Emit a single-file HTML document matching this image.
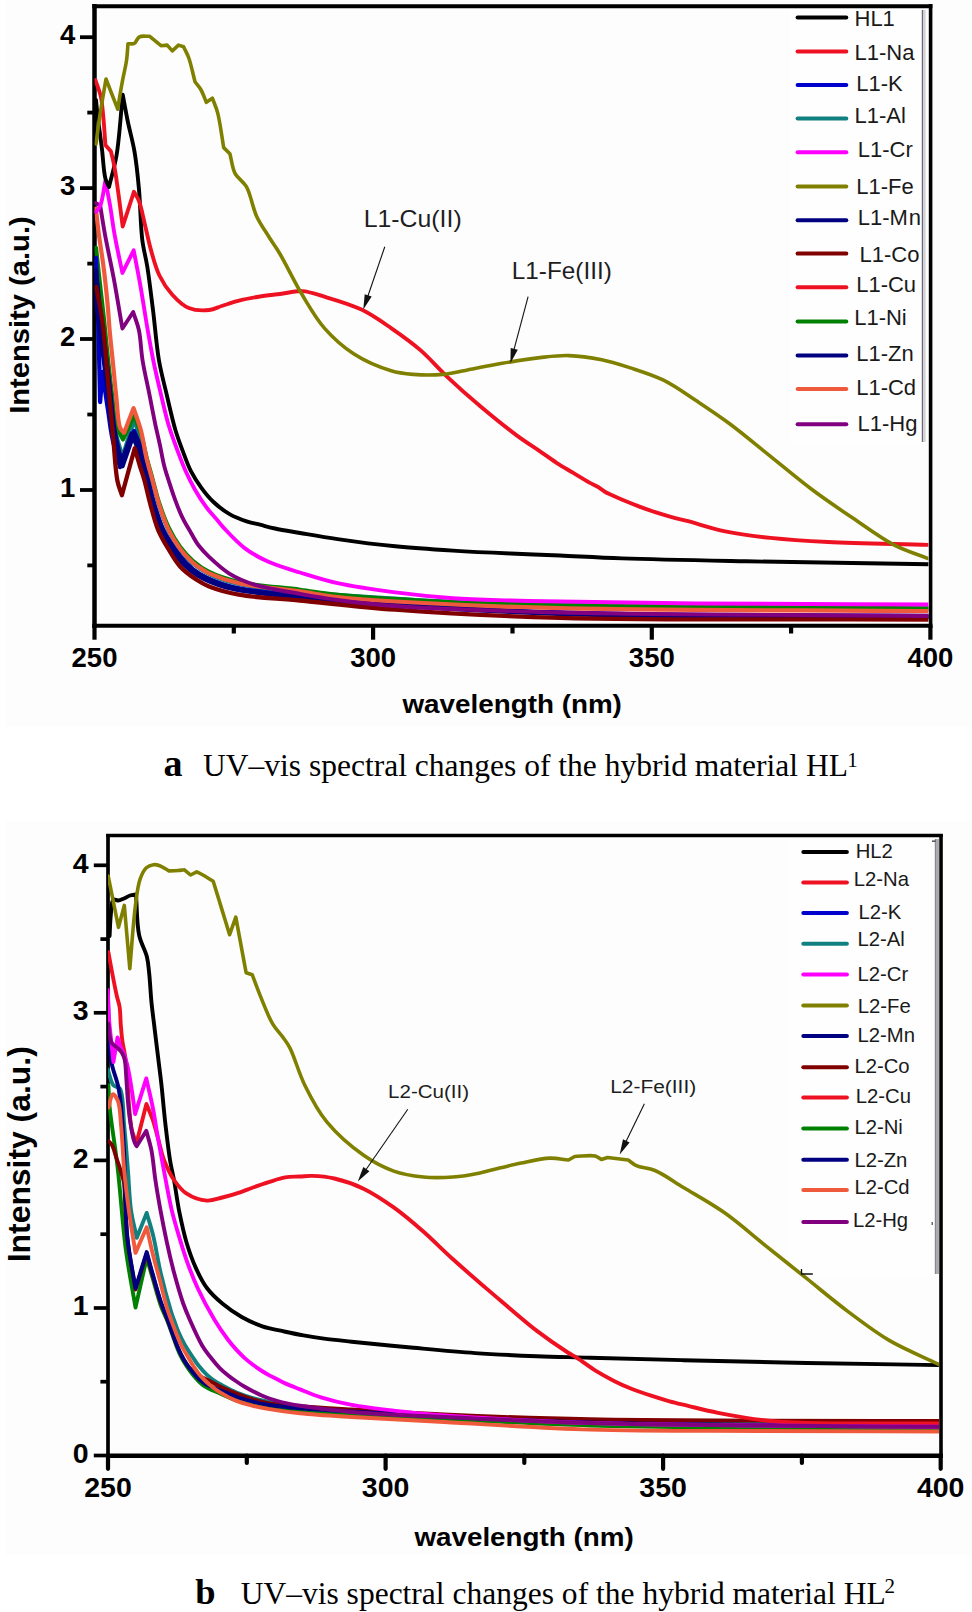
<!DOCTYPE html>
<html><head><meta charset="utf-8"><title>UV-vis spectra</title>
<style>
html,body{margin:0;padding:0;background:#fff;}
body{width:972px;height:1612px;overflow:hidden;position:relative;}
svg{position:absolute;left:0;top:0;}
.t{font-family:"Liberation Sans",sans-serif;}
.s{font-family:"Liberation Serif",serif;}
</style></head><body>
<svg width="972" height="1612" viewBox="0 0 972 1612">
<rect x="6" y="0" width="965" height="727" fill="#fdfdfd"/>
<rect x="6" y="821" width="966" height="734" fill="#fdfdfd"/>
<rect x="790" y="9" width="132" height="434" fill="#fefefe"/>
<rect x="789" y="839" width="146" height="436" fill="#fefefe"/>
<defs><clipPath id="c1"><rect x="94.5" y="8.2" width="833.9" height="615.6"/></clipPath><clipPath id="c2"><rect x="108.0" y="837.6" width="831.0" height="616.1"/></clipPath></defs>
<line x1="94.5" y1="4.1" x2="94.5" y2="627.7" stroke="#000" stroke-width="4.50"/>
<line x1="930.6" y1="4.1" x2="930.6" y2="627.7" stroke="#000" stroke-width="3.60"/>
<line x1="92.3" y1="6.2" x2="932.4" y2="6.2" stroke="#000" stroke-width="4.10"/>
<line x1="92.3" y1="625.7" x2="932.4" y2="625.7" stroke="#000" stroke-width="4.00"/>
<line x1="108.0" y1="833.9" x2="108.0" y2="1458.0" stroke="#000" stroke-width="3.70"/>
<line x1="941.0" y1="833.9" x2="941.0" y2="1458.0" stroke="#000" stroke-width="3.60"/>
<line x1="106.2" y1="835.6" x2="942.8" y2="835.6" stroke="#000" stroke-width="3.50"/>
<line x1="106.2" y1="1455.7" x2="942.8" y2="1455.7" stroke="#000" stroke-width="4.50"/>
<g clip-path="url(#c1)">
<path d="M96.0 262.0 C97.3 274.7 98.6 286.8 100.0 300.0 C101.6 314.4 103.3 330.0 105.0 345.0 C106.7 360.0 108.3 375.4 110.0 390.0 C111.6 403.7 112.6 418.0 115.0 430.0 C117.0 440.0 120.0 448.1 122.5 457.2 L134.2 419.3 C136.5 426.5 138.9 434.0 141.0 441.0 C143.0 447.5 144.6 453.5 146.5 460.0 C148.4 466.8 150.4 473.7 152.4 481.0 C154.6 488.9 156.6 497.4 159.2 505.5 C161.9 513.8 164.9 522.8 168.5 530.3 C171.8 537.1 175.5 543.4 179.7 549.0 C183.6 554.3 187.8 559.0 192.7 563.2 C197.6 567.4 202.6 570.8 209.1 574.0 C217.3 578.0 227.0 581.3 238.8 584.0 C255.4 587.8 272.5 589.4 300.0 592.0 C356.6 597.3 465.7 603.6 560.0 606.5 C672.4 610.0 806.7 608.2 930.0 609.0" fill="none" stroke="#108080" stroke-width="4.30" stroke-linejoin="round" stroke-linecap="round"/>
<path d="M96.0 248.0 C97.3 260.3 98.6 272.8 100.0 285.0 C101.3 296.8 102.7 307.9 104.0 320.0 C105.4 332.9 106.6 347.1 108.0 360.0 C109.3 372.1 110.6 383.8 112.0 395.0 C113.3 405.4 113.6 417.0 116.0 425.0 C117.8 430.8 120.7 434.6 123.0 439.4 L134.2 415.0 C136.5 421.3 139.0 427.3 141.0 434.0 C143.2 441.4 144.6 449.9 146.5 457.5 C148.4 464.8 150.4 471.4 152.4 478.7 C154.6 486.6 156.5 495.2 159.2 503.3 C162.0 511.6 165.1 520.5 168.8 528.0 C172.1 534.8 175.8 541.2 180.0 546.8 C183.9 552.1 188.2 556.8 193.0 561.0 C197.9 565.2 202.7 568.8 209.1 572.0 C217.3 576.1 227.0 579.3 238.8 582.0 C255.4 585.8 282.1 587.4 300.0 589.8 C314.1 591.7 322.5 593.4 337.6 595.0 C360.5 597.3 391.9 599.2 424.0 600.8 C464.2 602.8 503.5 603.9 560.0 605.0 C653.1 606.9 806.7 607.3 930.0 608.5" fill="none" stroke="#008000" stroke-width="4.30" stroke-linejoin="round" stroke-linecap="round"/>
<path d="M96.0 258.0 C96.8 282.0 97.8 306.0 98.5 330.0 C99.2 354.0 99.6 378.0 100.1 402.0 L102.5 372.0 C104.3 384.7 106.0 397.6 108.0 410.0 C109.9 421.9 111.0 435.3 114.0 445.0 C116.3 452.5 119.7 457.7 122.5 464.0 L134.2 431.0 C136.6 437.3 139.3 442.9 141.4 450.0 C144.0 458.6 145.6 469.7 147.8 479.0 C149.8 487.7 151.5 495.7 154.0 504.0 C156.5 512.4 159.2 521.4 162.7 529.0 C165.9 535.9 169.8 541.9 173.8 547.7 C177.6 553.3 181.8 558.7 186.2 563.2 C190.3 567.3 193.8 570.5 199.3 573.8 C206.9 578.3 216.6 582.7 228.9 586.0 C247.2 591.0 268.8 592.8 300.0 596.0 C359.4 602.1 465.7 609.1 560.0 612.5 C672.4 616.6 806.7 614.8 930.0 616.0" fill="none" stroke="#0000cc" stroke-width="4.30" stroke-linejoin="round" stroke-linecap="round"/>
<path d="M96.0 270.0 C97.3 283.3 98.5 296.7 100.0 310.0 C101.5 323.3 103.6 337.0 105.2 350.0 C106.8 362.3 108.1 373.2 109.6 385.8 C111.3 399.8 112.3 416.4 114.6 430.4 C116.7 443.0 119.9 454.3 122.5 466.2 L134.2 432.7 C136.7 438.8 139.4 444.1 141.6 451.0 C144.2 459.5 145.9 470.7 148.1 480.0 C150.1 488.6 151.8 496.6 154.3 504.8 C156.8 513.1 159.5 522.1 163.0 529.6 C166.2 536.4 170.1 542.4 174.1 548.2 C177.9 553.7 182.1 559.2 186.5 563.7 C190.6 567.8 194.1 571.0 199.6 574.3 C207.2 578.8 216.7 583.2 228.9 586.5 C247.2 591.5 268.8 593.2 300.0 596.4 C359.4 602.4 465.7 609.5 560.0 613.0 C672.4 617.1 806.7 615.3 930.0 616.5" fill="none" stroke="#000080" stroke-width="4.40" stroke-linejoin="round" stroke-linecap="round" transform="translate(-2.6 0.8)"/>
<path d="M96.0 270.0 C97.3 283.3 98.5 296.7 100.0 310.0 C101.5 323.3 103.6 337.0 105.2 350.0 C106.8 362.3 108.1 373.2 109.6 385.8 C111.3 399.8 112.3 416.4 114.6 430.4 C116.7 443.0 119.9 454.3 122.5 466.2 L134.2 432.7 C136.7 438.8 139.4 444.1 141.6 451.0 C144.2 459.5 145.9 470.7 148.1 480.0 C150.1 488.6 151.8 496.6 154.3 504.8 C156.8 513.1 159.5 522.1 163.0 529.6 C166.2 536.4 170.1 542.4 174.1 548.2 C177.9 553.7 182.1 559.2 186.5 563.7 C190.6 567.8 194.1 571.0 199.6 574.3 C207.2 578.8 216.7 583.2 228.9 586.5 C247.2 591.5 268.8 593.2 300.0 596.4 C359.4 602.4 465.7 609.5 560.0 613.0 C672.4 617.1 806.7 615.3 930.0 616.5" fill="none" stroke="#000080" stroke-width="4.30" stroke-linejoin="round" stroke-linecap="round"/>
<path d="M96.3 286.8 C98.3 298.4 100.6 308.1 102.4 321.5 C104.8 339.6 106.6 365.1 108.5 385.8 C110.3 405.1 111.9 424.7 113.5 441.6 C114.8 455.8 115.4 470.9 117.4 480.7 C118.6 486.8 120.4 490.4 121.9 495.2 L134.7 448.3 C136.5 454.3 138.3 460.7 140.0 466.3 C141.5 471.2 142.8 474.7 144.3 480.0 C146.3 487.0 148.2 496.6 150.5 504.8 C152.8 513.1 154.9 522.1 158.0 529.6 C160.8 536.4 164.2 542.1 167.9 548.2 C171.7 554.5 175.5 561.5 180.3 566.8 C184.9 571.8 190.7 575.9 195.8 579.3 C200.3 582.3 203.6 584.3 209.1 586.5 C216.9 589.6 227.0 592.5 238.8 594.7 C255.4 597.8 277.4 598.3 300.0 600.5 C328.3 603.2 359.2 607.1 395.3 609.7 C442.7 613.2 494.1 616.0 560.0 617.8 C658.7 620.5 806.7 618.9 930.0 619.5" fill="none" stroke="#800000" stroke-width="4.30" stroke-linejoin="round" stroke-linecap="round"/>
<path d="M95.9 208.7 C96.9 217.4 97.7 225.7 98.9 234.7 C100.2 244.4 101.9 254.3 103.3 265.1 C104.9 277.3 106.5 292.5 107.6 304.2 C108.5 313.7 108.8 320.8 109.6 330.0 C110.5 340.4 111.9 352.3 113.0 363.5 C114.1 374.7 115.1 386.0 116.3 397.0 C117.5 407.6 117.7 422.6 120.2 428.2 C121.3 430.6 122.8 431.2 124.1 432.7 L133.6 408.1 C136.0 415.5 138.8 422.5 140.9 430.4 C143.2 439.2 144.5 450.1 146.6 458.8 C148.4 466.4 150.4 472.7 152.4 480.0 C154.6 487.9 156.5 496.6 159.2 504.8 C161.9 513.1 164.9 522.1 168.5 529.6 C171.8 536.4 175.5 542.6 179.7 548.2 C183.6 553.5 188.8 559.0 192.7 562.5 C195.4 564.9 197.4 566.4 200.0 568.1 C202.8 570.0 205.1 571.5 209.1 573.3 C216.0 576.4 227.0 580.5 238.8 583.2 C255.4 587.0 282.1 588.9 300.0 591.4 C314.1 593.4 322.5 595.3 337.6 597.0 C360.5 599.5 391.9 601.3 424.0 603.0 C464.2 605.2 503.5 606.9 560.0 608.2 C653.1 610.4 806.7 610.2 930.0 611.2" fill="none" stroke="#f05a3c" stroke-width="4.20" stroke-linejoin="round" stroke-linecap="round"/>
<path d="M95.5 203.0 L100.2 205.5 C101.8 215.2 103.1 224.0 105.0 234.7 C107.4 247.8 110.9 263.1 113.7 278.1 C116.7 294.3 119.5 311.7 122.4 328.5 L133.2 312.0 C135.1 318.1 137.4 323.3 138.9 330.2 C140.8 338.8 140.9 349.9 142.5 360.0 C144.2 370.7 146.9 381.9 149.1 392.9 C151.3 403.9 153.6 416.3 155.6 425.8 C157.2 433.2 158.6 438.9 160.0 445.4 C161.4 451.9 162.5 458.9 164.0 465.0 C165.3 470.4 166.8 474.7 168.5 480.0 C170.4 485.9 172.4 492.4 174.7 498.6 C177.0 504.8 179.4 511.4 182.2 517.2 C184.8 522.7 188.0 527.8 190.9 532.7 C193.6 537.3 195.8 541.8 198.9 545.8 C201.9 549.8 205.0 553.0 209.1 556.9 C214.5 562.0 221.5 568.7 228.9 573.3 C236.7 578.2 245.1 581.7 255.2 584.9 C268.0 588.9 285.7 591.3 300.0 593.9 C313.1 596.3 323.7 598.2 337.6 600.0 C354.8 602.3 371.1 604.3 395.3 606.0 C436.1 608.9 494.1 610.9 560.0 612.5 C658.7 614.9 806.7 614.8 930.0 616.0" fill="none" stroke="#800080" stroke-width="3.90" stroke-linejoin="round" stroke-linecap="round"/>
<path d="M96.0 212.0 C97.5 209.8 99.1 208.4 100.4 205.3 C102.7 199.8 103.7 188.9 105.4 180.7 C106.9 188.8 108.5 196.5 110.0 205.0 C111.6 214.4 112.7 224.2 114.6 234.7 C116.7 246.7 119.8 260.2 122.4 272.9 L133.7 250.3 C136.0 262.5 138.4 274.3 140.6 286.8 C142.9 300.0 145.1 314.8 147.3 327.6 C149.3 339.0 151.0 349.2 153.2 360.0 C155.4 370.9 158.0 381.9 160.6 392.9 C163.2 403.9 165.8 415.7 168.8 425.8 C171.5 434.7 174.6 442.7 177.5 450.6 C180.2 457.8 182.7 464.6 185.7 471.2 C188.6 477.6 191.6 483.7 195.0 489.7 C198.4 495.7 202.4 501.9 206.3 507.2 C209.9 512.1 214.1 516.4 217.6 520.5 C220.5 523.9 222.4 526.4 225.8 530.0 C230.8 535.3 238.2 543.3 245.3 548.6 C252.4 553.9 259.9 558.0 268.4 561.8 C277.9 566.1 289.0 569.1 300.0 572.5 C311.9 576.2 323.6 580.1 337.6 583.2 C354.7 587.0 376.0 589.9 395.3 592.4 C414.5 594.9 433.7 596.8 452.9 598.2 C472.1 599.5 492.0 599.9 510.5 600.5 C527.6 601.0 539.3 601.1 560.0 601.5 C594.8 602.1 647.6 603.0 700.0 603.5 C767.2 604.1 853.3 604.2 930.0 604.5" fill="none" stroke="#ff00ff" stroke-width="3.90" stroke-linejoin="round" stroke-linecap="round"/>
<path d="M96.0 100.0 C96.5 105.3 96.9 109.6 97.6 115.9 C98.7 125.0 100.7 138.6 102.0 149.4 C103.2 159.4 103.6 171.7 105.4 178.4 C106.4 182.2 107.8 184.1 109.0 187.0 C111.5 176.3 114.5 167.4 116.6 155.0 C119.4 138.1 120.7 114.7 122.7 94.6 C124.4 103.6 125.9 112.3 127.8 121.5 C129.8 131.3 132.7 141.0 134.5 151.6 C136.5 163.2 137.7 175.2 138.9 188.5 C140.4 204.2 140.5 225.7 142.3 240.0 C143.6 250.4 145.7 256.8 147.3 266.8 C149.3 279.5 151.1 295.1 153.0 310.0 C155.0 326.1 156.4 345.1 158.9 360.0 C161.0 372.2 163.6 381.6 166.3 392.9 C169.1 404.9 172.3 419.5 175.4 430.0 C177.8 437.9 180.0 443.8 182.6 450.6 C185.2 457.5 187.7 464.9 190.9 471.2 C193.9 477.1 197.4 482.4 201.2 487.6 C204.9 492.7 208.8 497.6 213.5 502.0 C218.4 506.6 224.2 511.1 230.0 514.4 C235.5 517.6 242.0 519.8 247.4 521.6 C251.9 523.1 255.6 523.6 260.0 524.7 C264.8 525.9 269.3 527.3 275.0 528.5 C282.3 530.1 290.8 531.4 300.0 533.0 C311.3 534.9 323.7 537.1 337.6 539.1 C354.8 541.6 376.1 544.4 395.3 546.3 C414.5 548.2 433.7 549.4 452.9 550.6 C472.1 551.8 492.0 552.7 510.5 553.5 C527.6 554.3 542.6 554.7 560.0 555.5 C579.6 556.4 598.0 557.5 622.3 558.4 C656.5 559.6 700.5 560.4 745.8 561.3 C801.1 562.4 868.6 563.2 930.0 564.2" fill="none" stroke="#000000" stroke-width="3.90" stroke-linejoin="round" stroke-linecap="round"/>
<path d="M95.4 80.1 C97.2 85.7 99.6 91.1 100.9 96.9 C102.2 103.0 102.5 108.9 103.2 115.9 C104.1 124.5 104.7 135.2 105.4 144.9 L111.0 151.6 C112.1 156.4 113.3 160.7 114.3 166.1 C115.6 172.7 116.5 180.0 117.7 188.5 C119.3 199.5 121.0 213.8 122.7 226.5 L133.9 191.8 C135.6 194.8 137.4 196.9 138.9 200.8 C141.3 206.8 143.0 216.9 145.0 225.0 C147.0 233.1 148.5 241.2 150.8 249.4 C153.2 258.0 155.6 267.7 159.4 275.5 C162.9 282.7 167.3 289.2 172.3 294.7 C177.1 300.0 182.6 305.5 188.8 308.0 C194.9 310.5 203.4 310.6 209.3 310.0 C214.0 309.5 217.3 307.4 221.7 306.0 C226.8 304.4 232.3 302.3 238.1 300.8 C244.5 299.1 251.8 297.8 258.7 296.7 C265.7 295.6 272.8 294.9 280.0 294.0 C287.3 293.1 294.8 290.7 302.2 291.1 C309.6 291.5 316.1 294.2 324.4 296.7 C335.3 299.9 350.1 304.1 361.5 309.6 C372.2 314.7 381.4 321.4 391.1 328.1 C401.1 335.0 411.4 342.3 420.7 350.4 C429.9 358.4 437.4 367.5 446.7 376.3 C457.0 386.0 468.5 396.3 480.0 406.0 C491.9 416.0 506.0 427.5 517.0 435.6 C525.4 441.8 533.0 446.5 540.0 451.3 C546.0 455.4 550.9 459.2 556.5 462.8 C561.9 466.3 567.4 469.4 572.9 472.7 C578.4 476.0 584.8 480.1 589.4 482.6 C592.6 484.3 594.9 485.3 597.6 486.7 L605.8 492.4 C611.3 494.9 616.8 497.5 622.3 499.8 C627.8 502.1 633.3 504.3 638.8 506.4 C644.3 508.5 649.7 510.4 655.2 512.2 C660.7 514.0 666.2 515.6 671.7 517.1 C677.2 518.6 681.5 519.5 688.1 521.2 C698.0 523.8 712.1 528.6 725.2 531.3 C739.5 534.3 754.5 536.2 770.5 537.9 C788.5 539.8 806.1 540.9 828.0 542.0 C857.1 543.5 896.0 543.9 930.0 544.9" fill="none" stroke="#ee1122" stroke-width="3.90" stroke-linejoin="round" stroke-linecap="round"/>
<path d="M96.0 144.0 C97.3 134.6 98.3 125.9 99.8 115.9 C101.5 104.4 103.9 91.3 106.0 79.0 C107.9 83.8 109.7 88.6 111.6 93.5 C113.6 98.6 115.7 104.0 117.7 109.2 C119.2 100.2 120.6 90.8 122.2 82.3 C123.6 74.5 125.6 66.9 126.6 60.0 C127.4 54.2 127.5 49.1 128.0 43.7 C130.1 43.6 132.4 44.4 134.2 43.5 C136.3 42.4 137.0 38.0 139.4 36.8 C142.0 35.4 146.3 36.5 149.7 36.3 L161.0 45.7 L167.2 45.1 L172.3 50.9 L178.5 45.1 L183.6 46.7 C185.3 50.5 187.2 53.5 188.8 58.0 C191.1 64.4 192.9 73.8 195.0 81.7 C197.0 84.5 199.3 86.8 201.1 90.0 C203.1 93.6 204.6 98.2 206.3 102.3 L212.4 98.2 C214.1 103.0 216.0 106.7 217.6 112.6 C220.0 121.6 221.7 135.9 223.7 147.6 L229.9 153.7 C231.6 160.2 232.1 167.7 235.0 173.3 C237.7 178.5 243.1 181.0 246.4 186.7 C250.8 194.4 252.6 207.7 256.7 216.5 C260.3 224.2 265.0 230.5 269.0 237.0 C272.7 243.0 275.8 247.0 280.0 254.0 C286.3 264.6 294.5 282.1 302.2 294.8 C309.3 306.6 315.7 318.2 324.4 328.1 C333.0 337.9 343.0 346.9 354.0 354.0 C365.2 361.2 380.1 367.4 391.1 370.7 C399.3 373.2 405.3 373.7 413.3 374.4 C422.5 375.2 433.1 375.3 443.0 374.4 C452.9 373.5 462.7 370.7 472.6 368.9 C482.5 367.0 491.7 365.1 502.2 363.3 C514.0 361.3 528.2 358.9 540.0 357.6 C550.2 356.5 558.9 355.3 568.8 355.6 C579.4 355.9 591.2 357.6 601.7 359.7 C611.7 361.7 620.6 364.7 630.5 367.9 C641.2 371.4 652.8 374.9 663.5 380.2 C674.8 385.8 685.5 393.6 696.4 400.8 C707.4 408.1 717.9 415.0 729.3 423.5 C742.4 433.2 756.8 445.4 770.5 456.4 C784.2 467.4 797.7 478.9 811.6 489.3 C825.2 499.5 839.0 508.8 852.8 518.1 C866.4 527.3 880.3 537.8 893.9 544.9 C906.0 551.2 918.0 554.5 930.0 559.3" fill="none" stroke="#808000" stroke-width="3.60" stroke-linejoin="round" stroke-linecap="round"/>
</g>
<line x1="797.6" y1="17.6" x2="846.3" y2="17.6" stroke="#000000" stroke-width="4.00" stroke-linecap="round"/>
<text class="t" x="854.5" y="25.5" font-size="22.00" font-weight="normal" text-anchor="start" fill="#1a1a1a">HL1</text>
<line x1="797.6" y1="51.4" x2="846.3" y2="51.4" stroke="#ee1122" stroke-width="4.00" stroke-linecap="round"/>
<text class="t" x="854.5" y="60.1" font-size="22.00" font-weight="normal" text-anchor="start" fill="#1a1a1a">L1-Na</text>
<line x1="797.6" y1="85.1" x2="846.3" y2="85.1" stroke="#0000cc" stroke-width="4.00" stroke-linecap="round"/>
<text class="t" x="856.2" y="91.4" font-size="22.00" font-weight="normal" text-anchor="start" fill="#1a1a1a">L1-K</text>
<line x1="797.6" y1="118.5" x2="846.3" y2="118.5" stroke="#108080" stroke-width="4.00" stroke-linecap="round"/>
<text class="t" x="854.5" y="122.6" font-size="22.00" font-weight="normal" text-anchor="start" fill="#1a1a1a">L1-Al</text>
<line x1="797.6" y1="152.3" x2="846.3" y2="152.3" stroke="#ff00ff" stroke-width="4.00" stroke-linecap="round"/>
<text class="t" x="857.8" y="157.3" font-size="22.00" font-weight="normal" text-anchor="start" fill="#1a1a1a">L1-Cr</text>
<line x1="797.6" y1="186.6" x2="846.3" y2="186.6" stroke="#808000" stroke-width="4.00" stroke-linecap="round"/>
<text class="t" x="856.2" y="193.8" font-size="22.00" font-weight="normal" text-anchor="start" fill="#1a1a1a">L1-Fe</text>
<line x1="797.6" y1="220.2" x2="846.3" y2="220.2" stroke="#000080" stroke-width="4.00" stroke-linecap="round"/>
<text class="t" x="857.8" y="224.8" font-size="22.00" font-weight="normal" text-anchor="start" fill="#1a1a1a">L1-M<tspan dx="0.8">n</tspan></text>
<line x1="797.6" y1="253.6" x2="846.3" y2="253.6" stroke="#800000" stroke-width="4.00" stroke-linecap="round"/>
<text class="t" x="859.5" y="261.8" font-size="22.00" font-weight="normal" text-anchor="start" fill="#1a1a1a">L1-Co</text>
<line x1="797.6" y1="287.3" x2="846.3" y2="287.3" stroke="#ee1122" stroke-width="4.00" stroke-linecap="round"/>
<text class="t" x="856.2" y="292.3" font-size="22.00" font-weight="normal" text-anchor="start" fill="#1a1a1a">L1-Cu</text>
<line x1="797.6" y1="321.6" x2="846.3" y2="321.6" stroke="#008000" stroke-width="4.00" stroke-linecap="round"/>
<text class="t" x="854.2" y="325.4" font-size="22.00" font-weight="normal" text-anchor="start" fill="#1a1a1a">L1-Ni</text>
<line x1="797.6" y1="355.5" x2="846.3" y2="355.5" stroke="#000080" stroke-width="4.00" stroke-linecap="round"/>
<text class="t" x="856.2" y="360.5" font-size="22.00" font-weight="normal" text-anchor="start" fill="#1a1a1a">L1-Zn</text>
<line x1="797.6" y1="389.1" x2="846.3" y2="389.1" stroke="#f05a3c" stroke-width="4.00" stroke-linecap="round"/>
<text class="t" x="856.2" y="394.5" font-size="22.00" font-weight="normal" text-anchor="start" fill="#1a1a1a">L1-Cd</text>
<line x1="797.6" y1="424.2" x2="846.3" y2="424.2" stroke="#800080" stroke-width="4.00" stroke-linecap="round"/>
<text class="t" x="857.5" y="430.7" font-size="22.00" font-weight="normal" text-anchor="start" fill="#1a1a1a">L1-Hg</text>
<rect x="921.8" y="10" width="1.2" height="432" fill="#6a6680"/>
<rect x="923" y="10" width="2.6" height="432" fill="#d2d2d2"/>
<line x1="80.0" y1="490.0" x2="94.5" y2="490.0" stroke="#000" stroke-width="3.80"/>
<text class="t" x="75.2" y="496.9" font-size="27.50" font-weight="bold" text-anchor="end" fill="#000">1</text>
<line x1="80.0" y1="339.0" x2="94.5" y2="339.0" stroke="#000" stroke-width="3.80"/>
<text class="t" x="75.2" y="345.9" font-size="27.50" font-weight="bold" text-anchor="end" fill="#000">2</text>
<line x1="80.0" y1="188.1" x2="94.5" y2="188.1" stroke="#000" stroke-width="3.80"/>
<text class="t" x="75.2" y="195.0" font-size="27.50" font-weight="bold" text-anchor="end" fill="#000">3</text>
<line x1="80.0" y1="37.2" x2="94.5" y2="37.2" stroke="#000" stroke-width="3.80"/>
<text class="t" x="75.2" y="44.1" font-size="27.50" font-weight="bold" text-anchor="end" fill="#000">4</text>
<line x1="87.3" y1="565.4" x2="94.5" y2="565.4" stroke="#000" stroke-width="3.80"/>
<line x1="87.3" y1="414.5" x2="94.5" y2="414.5" stroke="#000" stroke-width="3.80"/>
<line x1="87.3" y1="263.6" x2="94.5" y2="263.6" stroke="#000" stroke-width="3.80"/>
<line x1="87.3" y1="112.6" x2="94.5" y2="112.6" stroke="#000" stroke-width="3.80"/>
<line x1="94.5" y1="625.7" x2="94.5" y2="639.7" stroke="#000" stroke-width="4.20"/>
<text class="t" x="94.5" y="667.2" font-size="27.50" font-weight="bold" text-anchor="middle" fill="#000">250</text>
<line x1="373.1" y1="625.7" x2="373.1" y2="639.7" stroke="#000" stroke-width="4.20"/>
<text class="t" x="373.1" y="667.2" font-size="27.50" font-weight="bold" text-anchor="middle" fill="#000">300</text>
<line x1="651.8" y1="625.7" x2="651.8" y2="639.7" stroke="#000" stroke-width="4.20"/>
<text class="t" x="651.8" y="667.2" font-size="27.50" font-weight="bold" text-anchor="middle" fill="#000">350</text>
<line x1="930.4" y1="625.7" x2="930.4" y2="639.7" stroke="#000" stroke-width="4.20"/>
<text class="t" x="930.4" y="667.2" font-size="27.50" font-weight="bold" text-anchor="middle" fill="#000">400</text>
<line x1="233.8" y1="625.7" x2="233.8" y2="633.5" stroke="#000" stroke-width="4.20"/>
<line x1="512.5" y1="625.7" x2="512.5" y2="633.5" stroke="#000" stroke-width="4.20"/>
<line x1="791.1" y1="625.7" x2="791.1" y2="633.5" stroke="#000" stroke-width="4.20"/>
<text class="t" x="402.4" y="713.4" font-size="25.50" font-weight="bold" text-anchor="start" fill="#000" textLength="219.5" lengthAdjust="spacingAndGlyphs">wavelength (nm)</text>
<text class="t" x="0.0" y="0.0" font-size="28.50" font-weight="bold" text-anchor="middle" fill="#000" textLength="197.5" lengthAdjust="spacingAndGlyphs" transform="translate(29.2 315.05) rotate(-90)">Intensity (a.u.)</text>
<text class="t" x="363.7" y="227.4" font-size="24.50" font-weight="normal" text-anchor="start" fill="#1e1e1e" textLength="98.0" lengthAdjust="spacingAndGlyphs">L1-Cu(II)</text>
<text class="t" x="511.8" y="279.3" font-size="24.50" font-weight="normal" text-anchor="start" fill="#1e1e1e" textLength="100.0" lengthAdjust="spacingAndGlyphs">L1-Fe(III)</text>
<line x1="384.8" y1="246.7" x2="367.5" y2="297.3" stroke="#111" stroke-width="1.10"/>
<path d="M363.3 309.6 L364.7 294.2 L371.7 296.6 Z" fill="#111"/>
<line x1="528.1" y1="296.7" x2="513.7" y2="350.7" stroke="#111" stroke-width="1.10"/>
<path d="M510.4 363.3 L510.7 347.9 L517.8 349.8 Z" fill="#111"/>
<text class="s" x="163.6" y="776.2" font-size="38.00" font-weight="bold" text-anchor="start" fill="#000">a</text>
<text class="s" x="203.0" y="776.0" font-size="31.50" font-weight="normal" text-anchor="start" fill="#000" textLength="645.0" lengthAdjust="spacingAndGlyphs">UV–vis spectral changes of the hybrid material HL</text>
<text class="s" x="847.3" y="766.7" font-size="21.00" font-weight="normal" text-anchor="start" fill="#000">1</text>
<g clip-path="url(#c2)">
<path d="M109.6 936.0 C110.0 929.0 110.1 921.5 110.8 915.0 C111.4 909.4 111.2 901.0 113.3 899.5 C114.5 898.7 116.4 900.6 118.0 900.5 C119.9 900.4 122.0 899.3 124.0 898.5 C126.0 897.7 127.9 896.2 130.0 895.5 C132.0 894.9 134.0 894.8 136.0 894.5 C137.0 908.0 136.7 923.7 139.1 935.0 C140.9 943.5 145.2 949.9 146.9 956.8 C148.3 962.7 148.5 967.2 149.2 973.5 C150.1 981.6 150.5 992.2 151.4 1001.5 C152.3 1010.8 153.6 1020.1 154.7 1029.4 C155.8 1038.7 157.0 1048.0 158.1 1057.3 C159.2 1066.6 160.4 1075.1 161.5 1085.3 C162.8 1097.4 164.0 1112.2 165.5 1125.0 C166.9 1137.0 168.4 1150.0 170.0 1160.0 C171.2 1167.6 172.6 1172.6 174.0 1180.0 C175.7 1189.2 177.1 1200.6 179.1 1210.9 C181.2 1221.2 183.4 1232.0 186.3 1241.7 C189.0 1250.7 192.0 1259.4 195.6 1267.4 C198.9 1274.8 202.3 1281.9 206.9 1288.0 C211.3 1293.9 216.6 1298.7 222.3 1303.5 C228.2 1308.4 235.0 1313.2 241.7 1317.0 C248.3 1320.7 255.3 1323.9 262.3 1326.3 C269.1 1328.6 276.0 1329.7 282.9 1331.2 C289.8 1332.7 296.6 1334.2 303.5 1335.4 C310.3 1336.6 316.6 1337.6 324.0 1338.6 C332.5 1339.7 340.6 1340.5 351.7 1341.7 C368.2 1343.4 392.9 1345.9 413.5 1347.8 C434.1 1349.7 454.6 1351.7 475.2 1353.1 C495.8 1354.5 517.1 1355.4 536.9 1356.2 C555.3 1356.9 569.8 1357.1 590.0 1357.7 C616.8 1358.4 650.2 1359.4 683.5 1360.2 C721.8 1361.1 764.9 1362.2 806.9 1363.0 C850.5 1363.8 896.0 1364.4 940.5 1365.1" fill="none" stroke="#000000" stroke-width="3.90" stroke-linejoin="round" stroke-linecap="round"/>
<path d="M108.4 1085.3 C108.8 1092.5 108.8 1097.8 109.6 1106.8 C111.0 1122.0 115.2 1146.2 117.7 1168.2 C120.6 1193.5 122.6 1225.3 125.9 1250.1 C128.7 1271.0 132.3 1288.4 135.5 1307.5 L146.7 1258.0 C148.6 1264.3 150.2 1270.1 152.3 1277.0 C154.8 1285.4 157.7 1296.9 160.6 1305.0 C162.9 1311.4 165.4 1315.8 167.8 1322.0 C170.7 1329.5 174.4 1340.9 176.8 1347.0 C178.2 1350.6 179.0 1352.6 180.5 1355.5 C182.1 1358.7 184.2 1362.4 186.2 1365.5 C188.1 1368.5 190.2 1371.4 192.3 1374.0 C194.3 1376.5 196.4 1378.9 198.5 1381.0 C200.5 1383.0 202.0 1384.6 204.7 1386.3 C208.5 1388.8 214.8 1391.2 220.0 1393.5 C225.4 1395.9 230.9 1398.6 236.5 1400.5 C241.9 1402.4 247.4 1403.7 252.9 1405.0 C258.4 1406.3 263.0 1407.3 269.4 1408.3 C278.0 1409.6 286.0 1410.6 300.0 1411.7 C330.3 1414.1 395.8 1416.7 444.0 1419.0 C492.5 1421.3 539.5 1424.0 590.0 1425.5 C644.5 1427.1 702.5 1427.3 760.0 1428.0 C819.3 1428.7 880.3 1429.0 940.5 1429.5" fill="none" stroke="#008000" stroke-width="3.90" stroke-linejoin="round" stroke-linecap="round"/>
<path d="M107.8 1069.6 C109.7 1074.8 110.7 1082.2 113.4 1085.3 C115.2 1087.3 118.2 1086.2 119.9 1088.6 C123.7 1094.1 122.9 1112.9 124.2 1125.8 C125.6 1139.9 126.7 1155.6 127.9 1170.0 C129.0 1183.7 129.3 1197.9 131.0 1210.0 C132.4 1220.2 134.9 1228.5 136.8 1237.8 L146.7 1212.9 C148.9 1220.8 151.3 1227.8 153.4 1236.6 C156.0 1247.3 157.8 1260.5 160.6 1272.6 C163.6 1285.2 168.4 1302.7 170.9 1311.0 C172.1 1315.1 172.8 1316.8 174.0 1320.0 C175.4 1323.8 176.8 1328.3 178.6 1332.4 C180.4 1336.6 182.7 1341.1 184.9 1345.0 C187.0 1348.7 189.2 1351.9 191.5 1355.3 C193.8 1358.7 195.9 1362.4 198.5 1365.6 C201.0 1368.8 203.8 1371.9 206.7 1374.6 C209.4 1377.1 212.3 1379.4 215.0 1381.2 C217.4 1382.8 219.2 1383.7 222.0 1385.2 C225.9 1387.3 231.0 1390.2 236.5 1392.5 C243.3 1395.3 251.1 1397.7 260.0 1400.0 C271.5 1402.9 282.4 1405.3 300.0 1407.5 C333.0 1411.6 395.8 1414.2 444.0 1416.5 C492.5 1418.8 539.5 1420.3 590.0 1421.5 C644.5 1422.8 702.5 1423.0 760.0 1423.5 C819.3 1424.0 880.3 1424.2 940.5 1424.5" fill="none" stroke="#108080" stroke-width="3.90" stroke-linejoin="round" stroke-linecap="round"/>
<path d="M108.2 1140.9 C109.5 1142.3 110.9 1143.1 112.0 1145.0 C113.8 1148.0 115.0 1153.8 116.4 1158.0 C117.8 1162.1 119.3 1166.0 120.5 1170.0 C121.7 1174.0 123.0 1177.1 123.8 1182.0 C125.0 1189.3 124.9 1200.5 125.5 1210.0 C126.1 1219.8 126.2 1228.8 127.5 1240.0 C129.1 1254.5 132.8 1273.0 135.5 1289.5 L146.7 1253.5 C148.6 1260.3 150.2 1266.6 152.3 1274.0 C154.8 1282.6 157.8 1293.7 160.6 1302.0 C162.9 1308.9 165.3 1313.9 167.8 1320.5 C170.7 1328.1 174.0 1338.3 176.8 1345.0 C178.8 1349.8 180.3 1353.2 182.4 1357.0 C184.4 1360.7 186.6 1364.5 189.2 1367.5 C191.5 1370.2 194.0 1372.4 197.0 1374.5 C200.4 1376.8 204.9 1378.5 208.8 1380.5 C212.6 1382.5 215.9 1384.5 220.0 1386.5 C224.9 1388.9 231.0 1391.4 236.5 1393.5 C241.9 1395.6 247.4 1397.6 252.9 1399.3 C258.4 1400.9 263.0 1402.3 269.4 1403.4 C278.0 1404.9 288.5 1405.3 300.0 1406.2 C315.0 1407.4 332.0 1408.3 351.7 1409.5 C378.0 1411.1 409.7 1413.0 444.0 1414.5 C487.1 1416.4 539.5 1418.3 590.0 1419.3 C644.5 1420.4 702.5 1420.3 760.0 1420.6 C819.3 1420.9 880.3 1420.9 940.5 1421.0" fill="none" stroke="#800000" stroke-width="3.90" stroke-linejoin="round" stroke-linecap="round"/>
<path d="M107.8 990.3 C108.2 1003.5 108.5 1018.3 109.0 1030.0 C109.4 1039.3 109.8 1048.3 110.5 1055.0 C111.0 1059.5 111.3 1062.1 112.3 1066.3 C113.6 1071.9 116.4 1078.7 117.9 1085.3 C119.5 1092.4 120.3 1099.0 121.2 1107.6 C122.5 1119.5 123.1 1133.4 124.0 1150.0 C125.2 1173.7 124.8 1211.4 127.3 1236.5 C129.2 1256.0 132.8 1271.0 135.5 1288.3 L146.7 1252.0 C148.6 1258.9 150.2 1265.2 152.3 1272.6 C154.8 1281.3 157.8 1292.5 160.6 1301.0 C163.0 1308.0 165.7 1314.3 167.8 1320.0 C169.5 1324.6 170.6 1328.3 172.1 1332.4 C173.6 1336.5 175.3 1341.0 176.8 1344.8 C178.1 1348.0 179.0 1350.5 180.5 1353.5 C182.1 1356.8 184.2 1360.4 186.2 1363.5 C188.1 1366.4 190.2 1369.1 192.3 1371.7 C194.3 1374.1 196.4 1376.5 198.5 1378.5 C200.5 1380.4 202.5 1382.1 204.7 1383.5 C207.0 1384.9 209.5 1385.9 212.0 1387.0 C214.6 1388.1 216.9 1388.9 220.0 1390.2 C224.5 1392.0 231.0 1394.9 236.5 1396.8 C241.9 1398.7 247.4 1400.3 252.9 1401.7 C258.4 1403.1 263.0 1404.0 269.4 1405.0 C278.0 1406.3 288.5 1407.3 300.0 1408.3 C315.0 1409.6 332.0 1410.3 351.7 1411.5 C378.0 1413.1 409.7 1415.1 444.0 1416.8 C487.1 1418.9 539.5 1421.1 590.0 1422.5 C644.5 1424.0 702.5 1424.4 760.0 1425.0 C819.3 1425.6 880.3 1425.9 940.5 1426.3" fill="none" stroke="#000080" stroke-width="3.90" stroke-linejoin="round" stroke-linecap="round"/>
<path d="M108.4 1107.6 C109.9 1103.1 110.9 1094.5 112.8 1094.2 C114.3 1094.0 116.6 1097.7 117.9 1100.9 C120.2 1106.4 120.2 1116.3 121.1 1125.8 C122.4 1138.4 122.9 1155.7 124.2 1170.0 C125.4 1183.5 126.9 1195.8 128.7 1209.2 C130.6 1223.4 133.2 1238.3 135.5 1252.9 L146.7 1227.3 C148.6 1235.5 150.2 1243.3 152.3 1252.0 C154.7 1261.7 158.0 1273.1 160.6 1282.9 C162.9 1291.7 164.9 1301.2 167.0 1308.0 C168.4 1312.8 169.7 1316.0 171.2 1320.0 C172.7 1324.1 174.2 1328.3 175.9 1332.4 C177.6 1336.6 179.2 1340.9 181.2 1345.0 C183.3 1349.2 185.9 1353.4 188.2 1357.3 C190.3 1360.9 192.3 1364.4 194.4 1367.6 C196.4 1370.6 198.3 1373.2 200.6 1375.9 C203.1 1378.7 205.7 1381.5 208.8 1384.1 C212.1 1387.0 215.8 1389.7 220.0 1392.3 C224.9 1395.3 230.9 1398.6 236.5 1400.9 C241.9 1403.1 247.4 1404.4 252.9 1405.8 C258.4 1407.2 263.0 1408.0 269.4 1409.1 C278.0 1410.6 288.4 1412.1 300.0 1413.3 C315.0 1414.9 332.0 1415.8 351.7 1417.0 C378.0 1418.7 409.7 1420.2 444.0 1422.0 C487.1 1424.3 539.5 1428.1 590.0 1429.6 C644.5 1431.2 702.5 1430.7 760.0 1431.0 C819.3 1431.3 880.3 1431.3 940.5 1431.5" fill="none" stroke="#f05a3c" stroke-width="3.90" stroke-linejoin="round" stroke-linecap="round"/>
<path d="M108.4 952.3 C109.7 959.4 110.9 966.3 112.3 973.5 C113.7 980.9 115.4 989.7 116.8 995.9 C117.8 1000.3 119.0 1002.9 119.6 1007.0 C120.4 1012.0 120.3 1018.2 120.7 1023.8 C121.2 1029.4 121.6 1035.4 122.3 1040.6 C122.9 1045.1 123.9 1048.8 124.6 1053.0 C125.3 1057.3 126.0 1061.2 126.5 1066.0 C127.1 1071.7 127.4 1078.4 127.8 1085.0 C128.3 1092.3 128.5 1100.4 129.2 1108.0 C129.9 1115.4 130.4 1123.6 131.8 1130.0 C133.0 1135.1 134.9 1139.0 136.4 1143.5 L146.4 1104.0 C148.5 1109.2 150.8 1114.1 152.7 1119.6 C154.7 1125.5 156.2 1131.7 158.0 1138.2 C160.0 1145.2 161.3 1153.0 164.0 1160.0 C166.7 1166.9 170.0 1174.2 174.0 1180.0 C177.6 1185.2 181.2 1190.0 186.3 1193.4 C191.9 1197.1 200.5 1200.2 206.9 1200.6 C212.4 1201.0 217.0 1198.8 222.3 1197.5 C228.0 1196.1 235.3 1193.9 240.0 1192.3 C243.2 1191.2 244.8 1190.5 248.1 1189.3 C253.4 1187.4 262.2 1184.2 268.7 1182.1 C274.5 1180.3 279.8 1178.3 285.2 1177.4 C290.2 1176.5 295.3 1176.8 300.0 1176.5 C304.3 1176.3 307.5 1175.7 312.2 1175.9 C318.5 1176.1 326.6 1176.7 334.4 1178.5 C343.7 1180.6 354.4 1184.3 364.0 1188.9 C374.2 1193.8 384.0 1200.5 393.7 1207.4 C403.8 1214.6 413.6 1223.0 423.3 1231.5 C433.3 1240.3 443.0 1250.3 453.0 1259.3 C462.8 1268.2 474.0 1277.8 482.6 1285.2 C489.1 1290.8 493.0 1294.2 499.9 1300.0 C509.9 1308.4 524.9 1321.7 536.9 1330.9 C547.5 1339.0 560.5 1347.8 567.8 1352.5 C571.7 1355.0 573.5 1355.6 577.0 1357.8 C582.2 1361.1 589.2 1366.8 595.5 1370.7 C601.6 1374.5 607.8 1377.8 614.0 1380.9 C620.1 1384.0 626.4 1386.8 632.6 1389.3 C638.7 1391.7 644.9 1393.7 651.1 1395.7 C657.2 1397.7 663.4 1399.6 669.6 1401.3 C675.7 1403.0 681.2 1404.2 688.1 1405.9 C696.9 1408.0 706.8 1410.6 718.0 1412.8 C732.0 1415.5 750.4 1418.8 765.8 1420.5 C780.0 1422.1 789.3 1422.4 807.0 1423.0 C838.8 1424.0 896.0 1423.3 940.5 1423.5" fill="none" stroke="#ee1122" stroke-width="3.90" stroke-linejoin="round" stroke-linecap="round"/>
<path d="M107.8 990.0 C108.2 999.4 108.3 1009.3 108.9 1018.2 C109.5 1026.1 110.4 1033.2 111.2 1040.6 C111.9 1047.8 112.7 1054.9 113.4 1062.0 L117.5 1037.5 C118.7 1041.0 119.9 1045.3 121.0 1048.0 C121.7 1049.8 122.4 1050.5 123.2 1052.3 C124.4 1055.1 125.8 1059.5 126.9 1063.5 C128.1 1068.1 129.0 1073.1 129.9 1078.4 C130.9 1084.2 131.9 1090.9 132.8 1097.0 C133.6 1102.8 134.3 1108.4 135.1 1114.1 L146.3 1078.4 C148.4 1088.0 150.8 1097.4 152.7 1107.2 C154.7 1117.3 156.0 1127.1 158.0 1138.2 C160.3 1151.1 163.2 1167.1 165.7 1180.0 C167.8 1191.1 169.6 1201.1 171.9 1210.9 C174.1 1219.9 176.5 1228.1 179.1 1236.6 C181.7 1245.2 184.2 1253.8 187.3 1262.3 C190.4 1270.9 193.5 1279.1 197.6 1288.0 C202.3 1298.2 209.0 1310.7 214.6 1320.0 C219.2 1327.6 224.1 1334.6 228.2 1340.0 C231.2 1344.0 233.7 1346.8 236.5 1349.9 C239.2 1352.8 241.9 1355.6 244.7 1358.1 C247.4 1360.5 250.1 1362.6 252.9 1364.7 C255.6 1366.7 258.4 1368.7 261.2 1370.5 C263.9 1372.3 266.6 1373.9 269.4 1375.4 C272.1 1376.9 274.9 1378.1 277.6 1379.5 C280.3 1380.9 282.7 1382.2 285.8 1383.6 C289.9 1385.4 294.8 1387.3 300.0 1389.4 C306.3 1391.9 313.3 1395.0 321.0 1397.4 C330.2 1400.3 340.4 1402.8 351.7 1404.9 C365.5 1407.5 382.5 1409.3 398.0 1411.1 C413.4 1412.9 428.1 1414.2 444.3 1415.5 C462.0 1416.9 479.2 1417.9 500.0 1419.0 C526.4 1420.4 555.3 1422.0 590.0 1423.0 C637.7 1424.4 702.5 1424.9 760.0 1425.5 C819.3 1426.1 880.3 1426.4 940.5 1426.8" fill="none" stroke="#ff00ff" stroke-width="3.90" stroke-linejoin="round" stroke-linecap="round"/>
<path d="M108.4 1023.8 C108.9 1028.5 109.2 1034.4 110.0 1038.0 C110.5 1040.3 110.9 1041.9 112.0 1043.4 C113.1 1044.9 115.0 1045.7 116.5 1047.1 C118.2 1048.6 120.3 1050.2 121.7 1052.3 C123.1 1054.5 124.0 1056.8 124.7 1059.8 C125.7 1063.9 125.7 1069.2 126.1 1074.7 C126.6 1081.4 127.0 1089.6 127.6 1097.0 C128.2 1104.5 128.8 1112.0 129.9 1119.4 C131.0 1126.9 132.7 1137.2 134.3 1141.7 C135.0 1143.8 135.8 1144.7 136.6 1146.2 L146.3 1130.8 C148.0 1137.4 150.1 1143.3 151.5 1150.6 C153.2 1159.4 153.9 1170.1 155.4 1180.0 C156.9 1190.2 158.7 1200.6 160.6 1210.9 C162.5 1221.2 164.5 1231.4 166.7 1241.7 C168.9 1252.0 171.3 1262.3 174.0 1272.6 C176.8 1282.9 180.2 1294.9 183.2 1303.5 C185.5 1309.9 187.2 1313.9 189.9 1320.0 C193.3 1327.7 198.5 1339.4 202.4 1346.0 C205.0 1350.4 207.2 1353.0 210.0 1356.5 C213.0 1360.4 216.7 1365.0 220.0 1368.3 C222.8 1371.1 225.4 1373.3 228.2 1375.5 C230.9 1377.7 233.7 1379.6 236.5 1381.5 C239.2 1383.4 241.9 1385.2 244.7 1386.8 C247.4 1388.4 250.1 1389.8 252.9 1391.2 C255.6 1392.6 258.4 1394.0 261.2 1395.2 C263.9 1396.4 266.6 1397.5 269.4 1398.5 C272.1 1399.5 274.9 1400.2 277.6 1401.0 C280.3 1401.8 282.7 1402.5 285.8 1403.2 C289.9 1404.1 293.8 1404.9 300.0 1405.8 C311.8 1407.6 332.0 1410.3 351.7 1412.0 C378.0 1414.3 409.7 1415.4 444.0 1417.0 C487.1 1419.1 539.5 1421.6 590.0 1423.0 C644.5 1424.5 702.5 1424.9 760.0 1425.5 C819.3 1426.1 880.3 1426.4 940.5 1426.8" fill="none" stroke="#800080" stroke-width="3.90" stroke-linejoin="round" stroke-linecap="round"/>
<path d="M108.2 876.0 L118.5 927.4 L124.3 905.4 L129.8 968.6 C131.7 947.4 133.3 921.5 135.5 905.0 C136.9 894.4 137.7 885.8 140.1 879.1 C141.8 874.4 143.7 870.2 146.3 867.8 C148.4 865.9 151.1 865.0 153.5 864.7 C155.6 864.4 157.5 864.9 159.7 865.7 C162.5 866.7 165.8 869.2 168.9 870.9 C172.0 870.8 175.4 870.7 178.2 870.5 C180.5 870.3 182.3 870.0 184.4 869.8 L190.5 875.0 L196.7 871.9 C198.8 872.9 200.6 873.7 202.9 875.0 C205.9 876.7 209.8 879.1 213.2 881.2 C215.9 890.1 218.7 899.0 221.4 907.9 C224.1 916.8 226.9 925.8 229.6 934.7 L235.8 917.2 L246.1 972.7 L252.3 974.8 C255.0 982.0 257.4 988.8 260.5 996.4 C264.1 1005.1 268.4 1016.8 272.8 1024.2 C276.1 1029.7 280.1 1033.3 283.1 1037.5 C285.7 1041.2 287.5 1043.3 290.0 1048.1 C294.4 1056.6 298.8 1073.1 304.8 1085.2 C311.0 1097.8 317.6 1110.8 327.0 1122.2 C337.1 1134.4 351.8 1147.1 364.0 1155.6 C374.0 1162.6 383.5 1167.5 393.7 1171.1 C403.3 1174.5 413.4 1176.0 423.3 1177.0 C433.1 1178.0 443.4 1177.7 453.0 1177.0 C462.2 1176.3 471.6 1174.6 480.0 1172.9 C487.4 1171.4 493.7 1169.5 500.6 1167.8 C507.5 1166.2 513.7 1164.5 521.2 1163.0 C530.0 1161.2 541.4 1158.4 550.0 1158.1 C556.8 1157.9 562.3 1159.4 568.5 1160.0 L574.7 1156.5 C581.5 1156.3 590.5 1154.8 595.2 1156.0 C598.0 1156.7 599.3 1158.3 601.4 1159.5 L607.6 1157.5 L628.1 1160.0 C630.9 1161.9 632.9 1164.1 636.4 1165.7 C641.2 1167.9 648.3 1167.7 654.9 1170.5 C663.6 1174.1 673.1 1181.2 683.5 1187.5 C696.0 1195.1 711.2 1203.3 724.6 1212.8 C738.6 1222.7 752.1 1234.8 765.8 1245.8 C779.5 1256.8 793.2 1267.7 806.9 1278.7 C820.6 1289.7 834.2 1301.2 848.1 1311.6 C861.7 1321.7 874.4 1331.7 889.2 1340.4 C905.0 1349.7 923.4 1356.9 940.5 1365.1" fill="none" stroke="#808000" stroke-width="3.60" stroke-linejoin="round" stroke-linecap="round"/>
</g>
<line x1="803.3" y1="851.9" x2="846.9" y2="851.9" stroke="#000000" stroke-width="4.00" stroke-linecap="round"/>
<text class="t" x="855.7" y="858.0" font-size="20.30" font-weight="normal" text-anchor="start" fill="#1a1a1a">HL2</text>
<line x1="803.3" y1="882.4" x2="846.9" y2="882.4" stroke="#ee1122" stroke-width="4.00" stroke-linecap="round"/>
<text class="t" x="853.8" y="886.1" font-size="20.30" font-weight="normal" text-anchor="start" fill="#1a1a1a">L2-Na</text>
<line x1="803.3" y1="913.1" x2="846.9" y2="913.1" stroke="#0000cc" stroke-width="4.00" stroke-linecap="round"/>
<text class="t" x="858.4" y="919.1" font-size="20.30" font-weight="normal" text-anchor="start" fill="#1a1a1a">L2-K</text>
<line x1="803.3" y1="943.7" x2="846.9" y2="943.7" stroke="#108080" stroke-width="4.00" stroke-linecap="round"/>
<text class="t" x="857.5" y="945.9" font-size="20.30" font-weight="normal" text-anchor="start" fill="#1a1a1a">L2-Al</text>
<line x1="803.3" y1="974.4" x2="846.9" y2="974.4" stroke="#ff00ff" stroke-width="4.00" stroke-linecap="round"/>
<text class="t" x="857.5" y="980.7" font-size="20.30" font-weight="normal" text-anchor="start" fill="#1a1a1a">L2-Cr</text>
<line x1="803.3" y1="1005.4" x2="846.9" y2="1005.4" stroke="#808000" stroke-width="4.00" stroke-linecap="round"/>
<text class="t" x="857.8" y="1012.7" font-size="20.30" font-weight="normal" text-anchor="start" fill="#1a1a1a">L2-Fe</text>
<line x1="803.3" y1="1035.9" x2="846.9" y2="1035.9" stroke="#000080" stroke-width="4.00" stroke-linecap="round"/>
<text class="t" x="857.5" y="1042.4" font-size="20.30" font-weight="normal" text-anchor="start" fill="#1a1a1a">L2-Mn</text>
<line x1="803.3" y1="1067.3" x2="846.9" y2="1067.3" stroke="#800000" stroke-width="4.00" stroke-linecap="round"/>
<text class="t" x="854.4" y="1072.6" font-size="20.30" font-weight="normal" text-anchor="start" fill="#1a1a1a">L2-Co</text>
<line x1="803.3" y1="1097.6" x2="846.9" y2="1097.6" stroke="#ee1122" stroke-width="4.00" stroke-linecap="round"/>
<text class="t" x="855.7" y="1102.6" font-size="20.30" font-weight="normal" text-anchor="start" fill="#1a1a1a">L2-Cu</text>
<line x1="803.3" y1="1128.6" x2="846.9" y2="1128.6" stroke="#008000" stroke-width="4.00" stroke-linecap="round"/>
<text class="t" x="854.4" y="1134.0" font-size="20.30" font-weight="normal" text-anchor="start" fill="#1a1a1a">L2-Ni</text>
<line x1="803.3" y1="1159.8" x2="846.9" y2="1159.8" stroke="#000080" stroke-width="4.00" stroke-linecap="round"/>
<text class="t" x="854.4" y="1166.9" font-size="20.30" font-weight="normal" text-anchor="start" fill="#1a1a1a">L2-Zn</text>
<line x1="803.3" y1="1190.1" x2="846.9" y2="1190.1" stroke="#f05a3c" stroke-width="4.00" stroke-linecap="round"/>
<text class="t" x="854.4" y="1194.1" font-size="20.30" font-weight="normal" text-anchor="start" fill="#1a1a1a">L2-Cd</text>
<line x1="803.3" y1="1221.9" x2="846.9" y2="1221.9" stroke="#800080" stroke-width="4.00" stroke-linecap="round"/>
<text class="t" x="852.9" y="1227.4" font-size="20.30" font-weight="normal" text-anchor="start" fill="#1a1a1a">L2-Hg</text>
<rect x="934.8" y="839" width="1.2" height="435" fill="#8a8898"/>
<rect x="936" y="839" width="3.1" height="435" fill="#acacac"/>
<line x1="93.8" y1="1455.5" x2="108.0" y2="1455.5" stroke="#000" stroke-width="3.70"/>
<text class="t" x="88.6" y="1462.9" font-size="28.50" font-weight="bold" text-anchor="end" fill="#000">0</text>
<line x1="93.8" y1="1308.0" x2="108.0" y2="1308.0" stroke="#000" stroke-width="3.70"/>
<text class="t" x="88.6" y="1315.4" font-size="28.50" font-weight="bold" text-anchor="end" fill="#000">1</text>
<line x1="93.8" y1="1160.4" x2="108.0" y2="1160.4" stroke="#000" stroke-width="3.70"/>
<text class="t" x="88.6" y="1167.8" font-size="28.50" font-weight="bold" text-anchor="end" fill="#000">2</text>
<line x1="93.8" y1="1012.8" x2="108.0" y2="1012.8" stroke="#000" stroke-width="3.70"/>
<text class="t" x="88.6" y="1020.2" font-size="28.50" font-weight="bold" text-anchor="end" fill="#000">3</text>
<line x1="93.8" y1="865.3" x2="108.0" y2="865.3" stroke="#000" stroke-width="3.70"/>
<text class="t" x="88.6" y="872.7" font-size="28.50" font-weight="bold" text-anchor="end" fill="#000">4</text>
<line x1="100.4" y1="1381.7" x2="108.0" y2="1381.7" stroke="#000" stroke-width="3.70"/>
<line x1="100.4" y1="1234.2" x2="108.0" y2="1234.2" stroke="#000" stroke-width="3.70"/>
<line x1="100.4" y1="1086.6" x2="108.0" y2="1086.6" stroke="#000" stroke-width="3.70"/>
<line x1="100.4" y1="939.1" x2="108.0" y2="939.1" stroke="#000" stroke-width="3.70"/>
<line x1="108.0" y1="1455.7" x2="108.0" y2="1468.8" stroke="#000" stroke-width="4.20" stroke-linecap="round"/>
<text class="t" x="108.0" y="1497.2" font-size="28.50" font-weight="bold" text-anchor="middle" fill="#000">250</text>
<line x1="385.6" y1="1455.7" x2="385.6" y2="1468.8" stroke="#000" stroke-width="4.20" stroke-linecap="round"/>
<text class="t" x="385.6" y="1497.2" font-size="28.50" font-weight="bold" text-anchor="middle" fill="#000">300</text>
<line x1="663.1" y1="1455.7" x2="663.1" y2="1468.8" stroke="#000" stroke-width="4.20" stroke-linecap="round"/>
<text class="t" x="663.1" y="1497.2" font-size="28.50" font-weight="bold" text-anchor="middle" fill="#000">350</text>
<line x1="940.7" y1="1455.7" x2="940.7" y2="1468.8" stroke="#000" stroke-width="4.20" stroke-linecap="round"/>
<text class="t" x="940.7" y="1497.2" font-size="28.50" font-weight="bold" text-anchor="middle" fill="#000">400</text>
<line x1="246.8" y1="1455.7" x2="246.8" y2="1463.0" stroke="#000" stroke-width="4.20" stroke-linecap="round"/>
<line x1="524.3" y1="1455.7" x2="524.3" y2="1463.0" stroke="#000" stroke-width="4.20" stroke-linecap="round"/>
<line x1="801.9" y1="1455.7" x2="801.9" y2="1463.0" stroke="#000" stroke-width="4.20" stroke-linecap="round"/>
<text class="t" x="414.4" y="1546.0" font-size="25.50" font-weight="bold" text-anchor="start" fill="#000" textLength="219.3" lengthAdjust="spacingAndGlyphs">wavelength (nm)</text>
<text class="t" x="0.0" y="0.0" font-size="30.50" font-weight="bold" text-anchor="middle" fill="#000" textLength="216.0" lengthAdjust="spacingAndGlyphs" transform="translate(29.9 1154.25) rotate(-90)">Intensity (a.u.)</text>
<path d="M801.5 1269 V1274 H812.8" fill="none" stroke="#111" stroke-width="1.3"/>
<rect x="931.6" y="1222" width="1.2" height="3" fill="#444"/>
<rect x="932" y="840.5" width="3.5" height="1.3" fill="#333"/>
<text class="t" x="388.1" y="1098.1" font-size="19.20" font-weight="normal" text-anchor="start" fill="#1e1e1e" textLength="81.0" lengthAdjust="spacingAndGlyphs">L2-Cu(II)</text>
<text class="t" x="610.2" y="1092.7" font-size="19.20" font-weight="normal" text-anchor="start" fill="#1e1e1e" textLength="86.0" lengthAdjust="spacingAndGlyphs">L2-Fe(III)</text>
<line x1="407.8" y1="1109.3" x2="365.2" y2="1170.8" stroke="#111" stroke-width="1.10"/>
<path d="M357.8 1181.5 L363.3 1167.1 L369.4 1171.3 Z" fill="#111"/>
<line x1="644.4" y1="1103.8" x2="625.4" y2="1142.7" stroke="#111" stroke-width="1.10"/>
<path d="M619.7 1154.4 L623.0 1139.3 L629.6 1142.5 Z" fill="#111"/>
<text class="s" x="195.2" y="1603.6" font-size="36.50" font-weight="bold" text-anchor="start" fill="#000">b</text>
<text class="s" x="240.7" y="1603.5" font-size="31.50" font-weight="normal" text-anchor="start" fill="#000" textLength="645.0" lengthAdjust="spacingAndGlyphs">UV–vis spectral changes of the hybrid material HL</text>
<text class="s" x="884.5" y="1593.3" font-size="21.00" font-weight="normal" text-anchor="start" fill="#000">2</text>
</svg>
</body></html>
